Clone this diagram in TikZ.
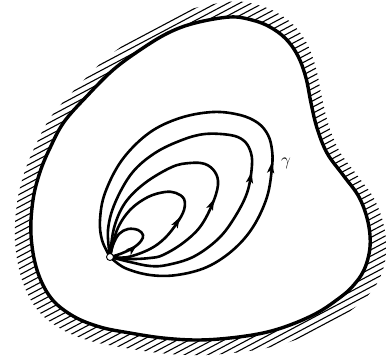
\documentclass[tikz,border=0pt]{standalone}
\usetikzlibrary{arrows.meta}
\begin{document}
\begin{tikzpicture}[x=1pt,y=-1pt,
  bound/.style={line width=3.4pt, line join=round},
  flow/.style={line width=2.6pt, line join=round, line cap=round},
  hatch/.style={line width=1.1pt},
  tipstyle/.style={-{Stealth[length=11pt,width=7pt,inset=2.5pt]}, line width=2.6pt},
  pt/.style={circle, draw, fill=white, inner sep=0pt, minimum size=7pt, line width=0.9pt}]
\useasboundingbox (0,0) rectangle (386,359);
\def\boundarypath{plot[smooth cycle, tension=0.6] coordinates {(230,17) (252,20) (270,27) (286,39) (298,56) (306,78) (311,103) (317,128) (327,153) (343,175) (359,197) (368,222) (370,247) (364,270) (352,287) (338,299) (317,313) (290,325) (263,333) (230,338) (197,340) (163,338) (130,333) (100,327) (73,316) (51,298) (37,270) (31,235) (33,200) (40,172) (50,148) (64,122) (87,96) (113,70) (140,50) (168,33) (195,23)}}
% hatching
\begin{scope}
  \clip[scale around={1.095:(200,180)}] \boundarypath;
  \foreach \c in {0,6.2,...,590} {
    \draw[hatch] (-20,{\c+10.6}) -- (420,{\c-222.6});
  }
\end{scope}
\fill[white] \boundarypath;
\draw[bound] \boundarypath;
% point
\coordinate (P) at (110,257);
% curves
\draw[flow] plot[smooth, tension=0.6] coordinates {(P) (120,254) (133,248) (141,241) (143,235) (138,230) (128,229) (119,234) (113,245) (P)};
\draw[flow] plot[smooth, tension=0.6] coordinates {(P) (128,257) (150,249) (165,238) (177,223) (184,210) (184,199) (176,193) (165,192) (148,197) (130,210) (117,230) (P)};
\draw[flow] plot[smooth, tension=0.6] coordinates {(P) (130,259) (150,258) (163,255) (183,243) (200,227) (212,205) (218,185) (215,172) (205,164) (190,163) (172,167) (145,183) (125,203) (114,228) (P)};
\draw[flow] plot[smooth, tension=0.6] coordinates {(P) (130,262) (150,266) (167,265) (193,257) (217,240) (233,220) (247,193) (252,165) (250,150) (243,140) (230,135) (205,134) (182,140) (155,153) (132,173) (115,203) (108,230) (P)};
\draw[flow] plot[smooth, tension=0.6] coordinates {(P) (125,268) (150,275) (177,275) (207,267) (233,250) (253,227) (267,197) (272,167) (272,150) (268,135) (258,123) (240,115) (213,112) (180,118) (149,133) (122,160) (105,193) (100,220) (102,240) (P)};
% arrow tips
\coordinate (a1) at (137,245); \coordinate (a1b) at (131,250);
\coordinate (a2) at (180,217); \coordinate (a2b) at (176,224);
\coordinate (a3) at (214,199); \coordinate (a3b) at (211,206);
\coordinate (a4) at (251.5,172); \coordinate (a4b) at (250,180);
\coordinate (a5) at (272,162); \coordinate (a5b) at (271,170);
\draw[tipstyle] (a1b) -- (a1);
\draw[tipstyle] (a2b) -- (a2);
\draw[tipstyle] (a3b) -- (a3);
\draw[tipstyle] (a4b) -- (a4);
\draw[tipstyle] (a5b) -- (a5);
\node[pt] (Pn) at (P) {};
\node (gam) at (286,163) {\fontsize{16}{16}\selectfont$\gamma$};
\end{tikzpicture}
\end{document}
